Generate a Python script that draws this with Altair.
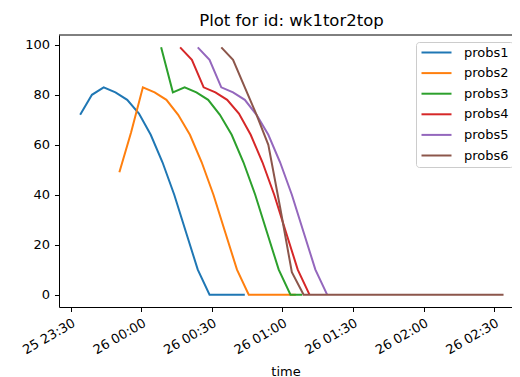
import altair as alt
import pandas as pd

series_names = ["probs1", "probs2", "probs3", "probs4", "probs5", "probs6"]
series_colors = ["#1f77b4", "#ff7f0e", "#2ca02c", "#d62728", "#9467bd", "#8c564b"]
start_times = [
    "2023-03-25 23:34:00",
    "2023-03-25 23:50:40",
    "2023-03-26 00:08:25",
    "2023-03-26 00:16:30",
    "2023-03-26 00:24:00",
    "2023-03-26 00:34:00",
]
step = "5min"

probs1 = [72, 80, 83, 81, 78, 72.5, 64, 53, 40, 25, 10, 0, 0, 0, 0]
probs2 = [49, 65, 83, 81, 78, 72, 64, 53, 40, 25, 10, 0, 0, 0, 0, 0]
probs3 = [99, 81, 83, 81, 78, 72, 64, 53, 40, 25, 10, 0, 0]
probs4 = [99, 94, 83, 81, 78, 72.5, 64, 53, 40, 25, 10, 0]
probs5 = [99, 94, 83, 81, 78, 72, 64, 53, 40, 25, 10, 0]
probs6 = [99, 94, 83, 72, 60, 35, 9, 0, 0, 0, 0, 0, 0, 0, 0, 0, 0, 0, 0, 0, 0, 0, 0, 0, 0]

all_values = [probs1, probs2, probs3, probs4, probs5, probs6]

rows = []
for name, start, vals in zip(series_names, start_times, all_values):
    times = pd.date_range(start, periods=len(vals), freq=step)
    for t, v in zip(times, vals):
        rows.append({"time": t.strftime("%Y-%m-%dT%H:%M:%S"), "value": v, "series": name})
df = pd.DataFrame(rows)

tick_times = [(25, 23, 30), (26, 0, 0), (26, 0, 30), (26, 1, 0), (26, 1, 30), (26, 2, 0), (26, 2, 30)]
x_ticks = [alt.DateTime(year=2023, month=3, date=d, hours=h, minutes=m) for d, h, m in tick_times]
x_domain = [
    alt.DateTime(year=2023, month=3, date=25, hours=23, minutes=25),
    alt.DateTime(year=2023, month=3, date=26, hours=2, minutes=37, seconds=36),
]
y_ticks = [0, 20, 40, 60, 80, 100]

FONT = "DejaVu Sans"

lines = alt.Chart(df).mark_line(strokeWidth=2).encode(
    x=alt.X(
        "time:T",
        scale=alt.Scale(domain=x_domain, nice=False),
        axis=alt.Axis(
            values=x_ticks,
            format="%d %H:%M",
            formatType="time",
            labelAngle=330,
            labelAlign="right",
            labelBaseline="top",
            labelPadding=5,
            title="time",
            titleY=68,
            titleBaseline="alphabetic",
            titleFontWeight="normal",
            titleFontSize=13,
            titleFont=FONT,
            titleColor="black",
        ),
    ),
    y=alt.Y(
        "value:Q",
        scale=alt.Scale(domain=[-4.95, 103.95], nice=False, zero=False),
        axis=alt.Axis(values=y_ticks, title=None, labelPadding=5),
    ),
    color=alt.Color(
        "series:N",
        scale=alt.Scale(domain=series_names, range=series_colors),
        legend=alt.Legend(
            title=None,
            orient="none",
            legendX=357,
            legendY=7,
            symbolType="M-1,0H5",
            symbolSize=100,
            symbolStrokeWidth=2,
            labelOffset=31,
            labelFont=FONT,
            labelFontSize=13,
            labelColor="black",
            rowPadding=6.6,
            padding=4,
            strokeColor="#cccccc",
            fillColor="white",
            cornerRadius=3,
        ),
    ),
)

top_rule = alt.Chart(pd.DataFrame({"a": [0]})).mark_rule(color="black", strokeWidth=1).encode(
    y=alt.value(0)
)

chart = alt.layer(lines, top_rule).properties(
    width=453,
    height=272,
    background="white",
    title=alt.TitleParams(
        "Plot for id: wk1tor2top",
        font=FONT,
        fontSize=16.5,
        fontWeight="normal",
        color="black",
        anchor="middle",
        baseline="alphabetic",
        offset=7.5,
        dy=15.5,
        dx=6,
    ),
    autosize=alt.AutoSizeParams(type="none"),
    padding={"left": 51, "top": 27, "right": 0, "bottom": 70},
).configure_view(stroke="transparent").configure_axis(
    grid=False,
    domainColor="black",
    domainWidth=1,
    tickColor="black",
    tickWidth=1,
    tickSize=4.5,
    labelColor="black",
    labelFont=FONT,
    labelFontSize=13,
)

chart.save("out.html", embed_options={"renderer": "svg", "actions": False})
